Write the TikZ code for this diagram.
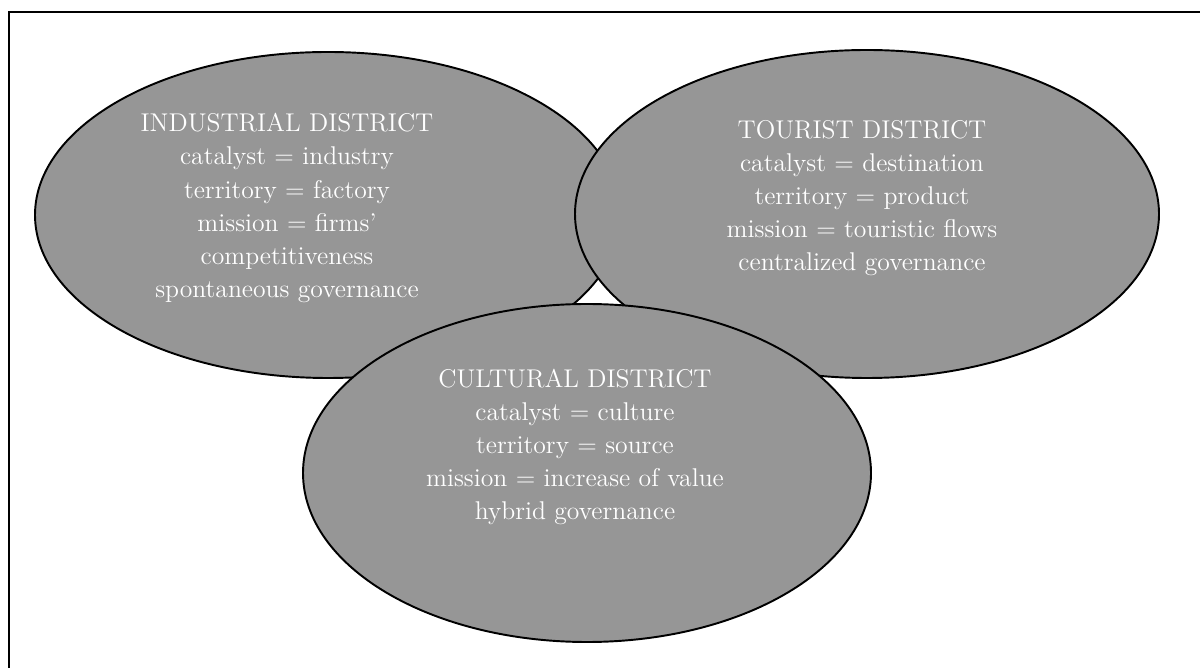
\documentclass[tikz,border=0pt]{standalone}
\usetikzlibrary{shapes.geometric}
\definecolor{districtgray}{RGB}{150,150,150}

\begin{document}
\begin{tikzpicture}[
  frame/.style={line width=1.1pt},
  district/.style={ellipse, draw, line width=1.1pt, fill=districtgray, inner sep=0pt, outer sep=0pt},
  label/.style={align=center, text=white, font=\fontsize{14.6}{18.8}\selectfont}
]
\useasboundingbox (0,0) rectangle (24,13.34);
\clip (0,0) rectangle (24,13.34);

\draw[frame] (0.18,-0.2) rectangle (24.2,13.10);

\node[district, minimum width=11.72cm, minimum height=6.52cm] (industrial) at (6.56,9.04) {};
\node[label] (industrialtxt) at ([xshift=-0.82cm, yshift=0.14cm]industrial.center)
  {INDUSTRIAL DISTRICT\\catalyst = industry\\territory = factory\\mission = firms'\\competitiveness\\spontaneous governance};

\node[district, minimum width=11.68cm, minimum height=6.56cm] (tourist) at (17.34,9.06) {};
\node[label] (touristtxt) at ([xshift=-0.1cm, yshift=0.32cm]tourist.center)
  {TOURIST DISTRICT\\catalyst = destination\\territory = product\\mission = touristic flows\\centralized governance};

\node[district, minimum width=11.36cm, minimum height=6.76cm] (cultural) at (11.74,3.88) {};
\node[label] (culturaltxt) at ([xshift=-0.24cm, yshift=0.52cm]cultural.center)
  {CULTURAL DISTRICT\\catalyst = culture\\territory = source\\mission = increase of value\\hybrid governance};

\end{tikzpicture}
\end{document}
